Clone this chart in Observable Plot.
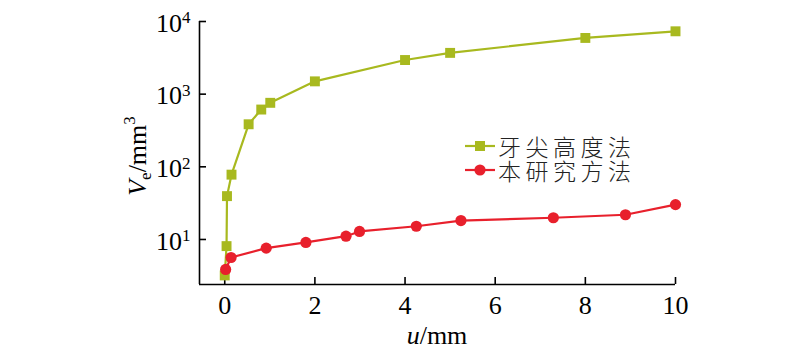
<!DOCTYPE html>
<html>
<head>
<meta charset="utf-8">
<script src="https://cdn.jsdelivr.net/npm/d3@7"></script>
<script src="https://cdn.jsdelivr.net/npm/@observablehq/plot@0.6"></script>
<style>
  html, body { margin: 0; padding: 0; background: #fff; }
  #chart { width: 800px; height: 353px; }
  #chart svg text { font-family: 'Liberation Serif', serif; }
  #chart svg text.cjk { font-family: 'Noto Sans CJK SC', sans-serif; }
</style>
</head>
<body>
<div id="chart"></div>
<script>
// ---- data ----
const seriesNames = ["牙尖高度法", "本研究方法"];
const greenX = [0, 0.04, 0.05, 0.15, 0.53, 0.81, 1.01, 2.0, 4.0, 5.0, 8.0, 10.0];
const greenV = [3.2, 8.1, 39.5, 78, 385, 614, 760, 1500, 2950, 3700, 5940, 7330];
const redX = [0.02, 0.14, 0.92, 1.8, 2.69, 2.99, 4.25, 5.24, 7.29, 8.89, 10.0];
const redV = [3.87, 5.65, 7.6, 9.1, 11.1, 12.9, 15.2, 18.2, 19.9, 21.9, 30.2];
const xTicks = [0, 2, 4, 6, 8, 10];
const yTicks = [10, 100, 1000, 10000];
const xDomain = [-0.56, 10];
const yDomain = [2.4, 10000];

const colors = ["#a8b91f", "#e8202c"];
const serif = "'Liberation Serif', serif";

const green = greenX.map((x, i) => ({x, v: greenV[i]}));
const red = redX.map((x, i) => ({x, v: redV[i]}));

const plot = Plot.plot({
  width: 800,
  height: 353,
  marginLeft: 199,
  marginRight: 125,
  marginTop: 21,
  marginBottom: 69,
  style: {fontFamily: serif, background: "#fff", color: "#000"},
  x: {domain: xDomain, label: null},
  y: {type: "log", domain: yDomain, label: null},
  marks: [
    Plot.ruleX([xDomain[0]], {stroke: "#000", strokeWidth: 1.6}),
    Plot.ruleY([yDomain[0]], {stroke: "#000", strokeWidth: 1.6}),
    Plot.axisX({ticks: xTicks, tickSize: -7, tickPadding: 18, fontSize: 26, fontFamily: serif, strokeWidth: 1.6, tickFormat: d => String(d), label: null}),
    Plot.axisY({ticks: yTicks, tickSize: -7, tickPadding: 16, fontSize: 26, fontFamily: serif, strokeWidth: 1.6,
      tickFormat: d => "10^" + Math.round(Math.log10(d)), label: null}),
    Plot.line(green, {x: "x", y: "v", stroke: colors[0], strokeWidth: 2.2}),
    Plot.dot(green, {x: "x", y: "v", symbol: "square", r: 5.6, fill: colors[0], stroke: "none"}),
    Plot.line(red, {x: "x", y: "v", stroke: colors[1], strokeWidth: 2.2}),
    Plot.dot(red, {x: "x", y: "v", symbol: "circle", r: 5.6, fill: colors[1], stroke: "none"})
  ]
});

document.getElementById("chart").appendChild(plot);
const svg = d3.select(plot);

// superscripts on y tick labels (nudged slightly down, as in the reference)
svg.selectAll("g[aria-label='y-axis tick label'] text").each(function() {
  const t = d3.select(this);
  const s = t.text();
  const [base, exp] = s.split("^");
  t.text(null);
  t.append("tspan").attr("dy", 2).text(base);
  t.append("tspan").attr("font-size", 17).attr("dy", "-0.5em").text(exp);
});

// y axis label
const yl = svg.append("text")
  .attr("transform", "translate(146,156) rotate(-90)")
  .attr("text-anchor", "middle")
  .attr("font-size", 26)
  .attr("fill", "#000");
yl.append("tspan").attr("font-style", "italic").text("V");
yl.append("tspan").attr("font-size", 17).attr("dy", 5).text("e");
yl.append("tspan").attr("dy", -5).text("/mm");
yl.append("tspan").attr("font-size", 17).attr("dy", -11).text("3");

// x axis label
const xl = svg.append("text")
  .attr("x", 437).attr("y", 344)
  .attr("text-anchor", "middle")
  .attr("font-size", 26)
  .attr("fill", "#000");
xl.append("tspan").attr("font-style", "italic").text("u");
xl.append("tspan").text("/mm");

// legend
const lg = svg.append("g");
[146, 170].forEach((yy, i) => {
  lg.append("line").attr("x1", 465).attr("x2", 495).attr("y1", yy).attr("y2", yy)
    .attr("stroke", colors[i]).attr("stroke-width", 2.2);
  if (i === 0) {
    lg.append("rect").attr("x", 475).attr("y", yy - 5).attr("width", 10).attr("height", 10).attr("fill", colors[i]);
  } else {
    lg.append("circle").attr("cx", 480).attr("cy", yy).attr("r", 5.6).attr("fill", colors[i]);
  }
  lg.append("text").attr("class", "cjk").attr("x", 498).attr("y", yy)
    .attr("text-anchor", "start").attr("dominant-baseline", "central")
    .attr("font-size", 23).attr("letter-spacing", 4.5)
    .attr("font-weight", 300).attr("fill", "#222").text(seriesNames[i]);
});
</script>
</body>
</html>
